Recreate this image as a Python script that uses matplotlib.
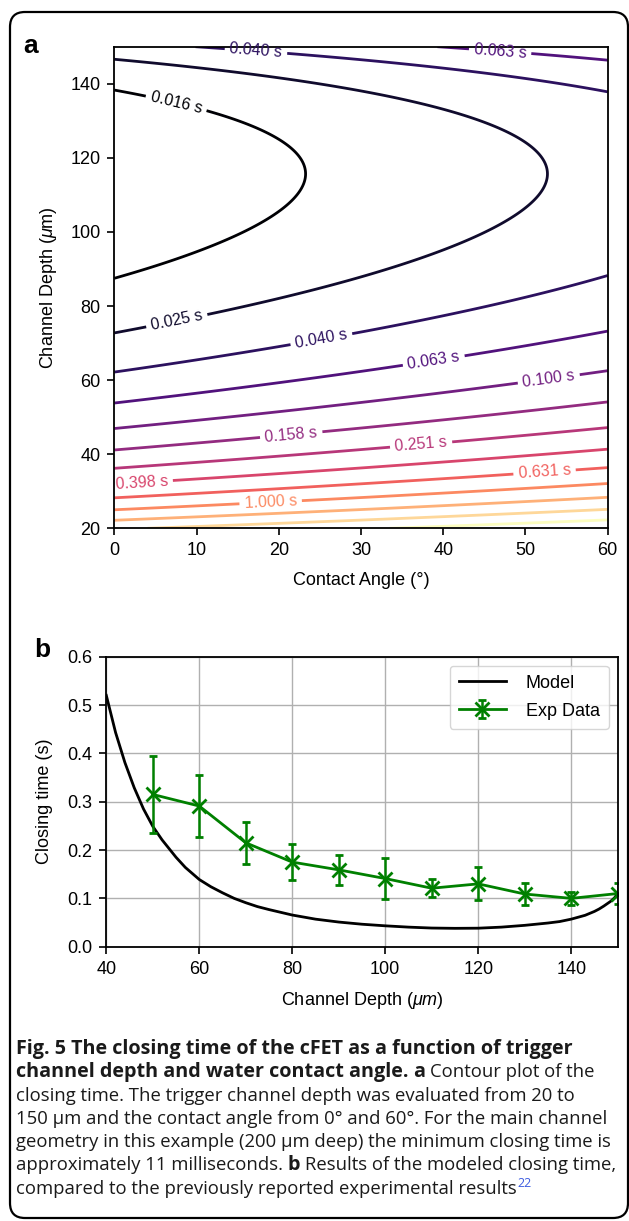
import numpy as np
import matplotlib
matplotlib.use('Agg')
import matplotlib.pyplot as plt
from matplotlib.colors import LogNorm
from matplotlib.patches import FancyBboxPatch

plt.rcParams['font.family'] = ['Liberation Sans', 'DejaVu Sans']
plt.rcParams['mathtext.fontset'] = 'custom'
plt.rcParams['mathtext.rm'] = 'Liberation Sans'
plt.rcParams['mathtext.it'] = 'Liberation Sans:italic'

# --- panel a: closing time surface, constants fitted to the contour positions
log_t0 = 5.630          # log10 prefactor
depth_exp = 4.114       # power of channel depth
pinch_exp = 1.6655      # power of (1 - depth/pinch_depth)
pinch_depth = 162.5     # um
angle_slope = 0.0068    # log10 units per degree
angle_range = [0, 60]
depth_range = [20, 150]
level_exp = [-1.8, -1.6, -1.4, -1.2, -1.0, -0.8, -0.6, -0.4, -0.2, 0.0, 0.2, 0.4, 0.6]

# --- panel b
model_depth = [40, 42, 44, 46, 48, 50, 52, 55, 57, 60, 62.5, 65, 67.5, 70, 72.5, 75,
               80, 85, 90, 95, 100, 105, 110, 115, 120, 125, 130, 135, 137.5, 140,
               141.5, 143, 145, 146, 147, 148.5, 149.3, 150]
model_time = [0.52, 0.443, 0.381, 0.329, 0.285, 0.249, 0.221, 0.185, 0.164, 0.139,
              0.124, 0.1115, 0.1, 0.091, 0.083, 0.0768, 0.0655, 0.057, 0.051, 0.0465,
              0.0432, 0.0405, 0.0386, 0.038, 0.0383, 0.0405, 0.0442, 0.049, 0.052,
              0.057, 0.061, 0.065, 0.073, 0.078, 0.084, 0.094, 0.101, 0.110]
exp_depth = [50, 60, 70, 80, 90, 100, 110, 120, 130, 140, 150]
exp_time = [0.315, 0.291, 0.215, 0.175, 0.159, 0.141, 0.121, 0.13, 0.109, 0.1, 0.11]
exp_err = [0.08, 0.064, 0.044, 0.038, 0.031, 0.042, 0.019, 0.034, 0.022, 0.014, 0.022]

W, H = 629, 1221
fig = plt.figure(figsize=(W / 100, H / 100), dpi=100)

# rounded frame around everything
frame = FancyBboxPatch((0.10, 0.03), 6.18, 12.06, boxstyle="round,pad=0,rounding_size=0.15",
                       transform=fig.dpi_scale_trans, fc='none', ec='black', lw=1.6)
fig.patches.append(frame)

# ---------------- panel a
ax = fig.add_axes([114.3 / W, 1 - 528.3 / H, 493.4 / W, 481.6 / H])
ang = np.linspace(angle_range[0], angle_range[1], 301)
dep = np.linspace(depth_range[0], depth_range[1], 651)
A, D = np.meshgrid(ang, dep)
T = 10 ** (log_t0 - depth_exp * np.log10(D) - pinch_exp * np.log10(1 - D / pinch_depth)
           + angle_slope * A)
levels = 10 ** np.array(level_exp)
cs = ax.contour(A, D, T, levels=levels, cmap='magma',
                norm=LogNorm(vmin=levels[0], vmax=levels[-1]), linewidths=2)
spots = [(7.45, 134.0), (17.2, 148.0), (46.9, 148.2), (7.6, 76.0), (25.2, 70.8),
         (38.9, 64.5), (52.8, 60.9), (21.5, 45.6), (37.3, 42.8), (3.3, 33.2),
         (52.3, 35.9), (19.0, 27.6)]
labels = ax.clabel(cs, fmt='%.3f s', fontsize=11.5, inline=True, manual=spots)
for t in labels:
    t.set_clip_on(False)
ax.set_xlim(0, 60)
ax.set_ylim(20, 150)
ax.set_xticks(range(0, 61, 10))
ax.set_yticks(range(20, 141, 20))
ax.tick_params(labelsize=13, length=5, width=1.2, pad=5)
for s in ax.spines.values():
    s.set_linewidth(1.3)
ax.set_xlabel('Contact Angle (°)', fontsize=13, labelpad=9)
ax.set_ylabel(r'Channel Depth ($\mu$m)', fontsize=13, labelpad=8)
fig.text(23 / W, 1 - 53 / H, 'a', fontsize=19, fontweight='bold', va='baseline')

# ---------------- panel b
bx = fig.add_axes([106.3 / W, 1 - 946.7 / H, 511.4 / W, 290 / H])
bx.plot(model_depth, model_time, color='black', lw=2, label='Model')
bx.errorbar(exp_depth, exp_time, yerr=exp_err, color='green', marker='x', ms=10, mew=2,
            lw=2, elinewidth=1.8, capsize=3, capthick=1.8, label='Exp Data')
bx.set_xlim(40, 150)
bx.set_ylim(0, 0.6)
bx.set_xticks(range(40, 141, 20))
bx.set_yticks(np.arange(0, 0.61, 0.1))
bx.yaxis.set_major_formatter(matplotlib.ticker.FormatStrFormatter('%.1f'))
bx.grid(True, color='#b0b0b0', lw=1)
bx.set_axisbelow(True)
bx.tick_params(labelsize=13, length=5, width=1.2, pad=5)
for s in bx.spines.values():
    s.set_linewidth(1.3)
bx.set_xlabel(r'Channel Depth ($\mu m$)', fontsize=13, labelpad=9)
bx.set_ylabel('Closing time (s)', fontsize=13, labelpad=10.5)
bx.legend(loc='upper right', fontsize=13, handlelength=2.6, handletextpad=1.1,
          labelspacing=0.6, borderpad=0.5)
fig.text(34 / W, 1 - 657 / H, 'b', fontsize=19, fontweight='bold', va='baseline')

# ---------------- caption, drawn run by run so bold and regular can mix
reg_size = 13.35
bold_size = 14.2
rend = fig.canvas.get_renderer()


def width_of(s, weight):
    size = bold_size if weight == 'bold' else reg_size
    t = fig.text(0, 0, s, fontsize=size, fontweight=weight, family='Open Sans')
    w = t.get_window_extent(rend).width
    t.remove()
    return w


space = width_of('n n', 'normal') - width_of('nn', 'normal')
caption = [
    [('Fig. 5 The closing time of the cFET as a function of trigger', 'bold')],
    [('channel depth and water contact angle.', 'bold'), ('a', 'bold'),
     ('Contour plot of the', 'normal')],
    [('closing time. The trigger channel depth was evaluated from 20 to', 'normal')],
    [('150 µm and the contact angle from 0° and 60°. For the main channel', 'normal')],
    [('geometry in this example (200 µm deep) the minimum closing time is', 'normal')],
    [('approximately 11 milliseconds.', 'normal'), ('b', 'bold'),
     ('Results of the modeled closing time,', 'normal')],
    [('compared to the previously reported experimental results', 'normal')],
]
y = 1054
for line in caption:
    x = 16
    for txt, wt in line:
        fig.text(x / W, 1 - y / H, txt, fontsize=bold_size if wt == 'bold' else reg_size,
                 fontweight=wt, family='Open Sans', va='baseline', color='#1a1a1a')
        x += width_of(txt, wt) + space
    y += 23.3
# reference mark
fig.text((x - space + 1) / W, 1 - (y - 23.3 - 7) / H, '22', fontsize=9, family='Open Sans',
         color='#3d5ce0', va='baseline')

fig.savefig('out.png', dpi=100)
